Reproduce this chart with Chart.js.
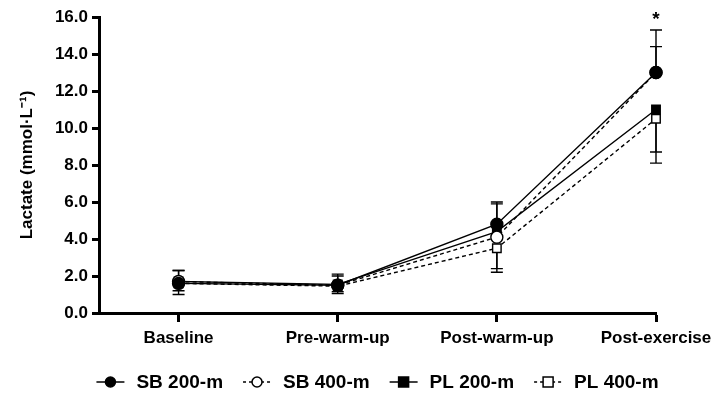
<!DOCTYPE html>
<html>
<head>
<meta charset="utf-8">
<script src="https://cdn.jsdelivr.net/npm/chart.js@4.4.1/dist/chart.umd.min.js"></script>
<style>
  html, body { margin: 0; padding: 0; background: #fff; }
  #wrap { width: 728px; height: 398px; }
</style>
</head>
<body>
<div id="wrap"><canvas id="chart"></canvas></div>
<script>
// time points
const categories = ["Baseline", "Pre-warm-up", "Post-warm-up", "Post-exercise"];

// means (mmol/L)
const sb200 = [1.6, 1.5, 4.8, 13.0];
const sb400 = [1.7, 1.5, 4.1, 13.0];
const pl200 = [1.7, 1.55, 4.4, 11.0];
const pl400 = [1.6, 1.45, 3.5, 10.5];

// SD, SB drawn upward, PL drawn downward
const sb200Sd = [0.7, 0.6, 1.2, 2.3];
const sb400Sd = [0.6, 0.5, 1.8, 1.4];
const pl200Sd = [0.5, 0.4, 2.2, 2.3];
const pl400Sd = [0.6, 0.4, 1.1, 2.4];

const yTicks = [0, 2, 4, 6, 8, 10, 12, 14, 16];
const starAt = [3]; // significance marks

const FONT = '"Liberation Sans", Arial, sans-serif';
Chart.defaults.font.family = FONT;
Chart.defaults.color = '#000';

function pts(arr) {
  return arr.map((v, i) => ({ x: i, y: v }));
}

function series(label, arr, sd, dir, style, filled, dashed) {
  return {
    label: label,
    data: pts(arr),
    errors: sd,
    errDir: dir,
    borderColor: '#000',
    borderWidth: 1.4,
    borderDash: dashed ? [4, 3] : [],
    pointStyle: style,
    pointRadius: 6,
    pointBorderWidth: 1.4,
    pointBorderColor: '#000',
    pointBackgroundColor: filled ? '#000' : '#fff',
    tension: 0,
    clip: false
  };
}

const errorBars = {
  id: 'errorBars',
  beforeDatasetsDraw(chart) {
    const ctx = chart.ctx;
    const ys = chart.scales.y;
    ctx.save();
    ctx.strokeStyle = '#000';
    ctx.lineWidth = 1.4;
    chart.data.datasets.forEach((ds, di) => {
      const meta = chart.getDatasetMeta(di);
      meta.data.forEach((pt, i) => {
        const end = ys.getPixelForValue(ds.data[i].y + ds.errors[i] * ds.errDir);
        ctx.beginPath();
        ctx.moveTo(pt.x, pt.y);
        ctx.lineTo(pt.x, end);
        ctx.moveTo(pt.x - 6, end);
        ctx.lineTo(pt.x + 6, end);
        ctx.stroke();
      });
    });
    ctx.restore();
  },
  afterDatasetsDraw(chart) {
    const ctx = chart.ctx;
    const xs = chart.scales.x, ys = chart.scales.y;
    ctx.save();
    ctx.font = 'bold 19px ' + FONT;
    ctx.textAlign = 'center';
    ctx.textBaseline = 'middle';
    starAt.forEach(i => {
      let top = 0;
      chart.data.datasets.forEach(ds => {
        top = Math.max(top, ds.data[i].y + Math.max(0, ds.errors[i] * ds.errDir));
      });
      ctx.fillText('*', xs.getPixelForValue(i), ys.getPixelForValue(top) - 10);
    });
    ctx.restore();
  }
};

const bottomLegend = {
  id: 'bottomLegend',
  afterDraw(chart) {
    const ctx = chart.ctx;
    const sym = 28, gap = 12, between = 20, y = 382;
    ctx.save();
    ctx.font = 'bold 19px ' + FONT;
    ctx.textBaseline = 'middle';
    const items = chart.data.datasets.map(ds => ({ ds: ds, w: ctx.measureText(ds.label).width }));
    let total = 0;
    items.forEach((it, k) => { total += sym + gap + it.w + (k ? between : 0); });
    const mid = (chart.chartArea.left + chart.chartArea.right) / 2;
    let x = mid - total / 2;
    items.forEach(it => {
      const ds = it.ds;
      ctx.strokeStyle = '#000';
      ctx.lineWidth = 1.5;
      ctx.setLineDash(ds.borderDash.length ? [3, 3] : []);
      ctx.beginPath();
      ctx.moveTo(x, y);
      ctx.lineTo(x + sym, y);
      ctx.stroke();
      ctx.setLineDash([]);
      ctx.fillStyle = ds.pointBackgroundColor;
      ctx.beginPath();
      if (ds.pointStyle === 'circle') {
        ctx.arc(x + sym / 2, y, 5, 0, Math.PI * 2);
      } else {
        ctx.rect(x + sym / 2 - 5, y - 5, 10, 10);
      }
      ctx.fill();
      ctx.stroke();
      ctx.fillStyle = '#000';
      ctx.fillText(ds.label, x + sym + gap, y + 1);
      x += sym + gap + it.w + between;
    });
    ctx.restore();
  }
};

new Chart(document.getElementById('chart'), {
  type: 'line',
  data: {
    datasets: [
      series('SB 200-m', sb200, sb200Sd, 1, 'circle', true, false),
      series('SB 400-m', sb400, sb400Sd, 1, 'circle', false, true),
      series('PL 200-m', pl200, pl200Sd, -1, 'rect', true, false),
      series('PL 400-m', pl400, pl400Sd, -1, 'rect', false, true)
    ]
  },
  options: {
    responsive: true,
    maintainAspectRatio: false,
    animation: false,
    layout: { padding: { top: 17, right: 72, left: 0, bottom: 0 } },
    plugins: {
      legend: { display: false },
      tooltip: { enabled: false }
    },
    scales: {
      x: {
        type: 'linear',
        min: -0.5,
        max: 3,
        afterBuildTicks: s => { s.ticks = categories.map((c, i) => ({ value: i })); },
        afterFit: s => { s.height = 85; },
        ticks: {
          autoSkip: false,
          maxRotation: 0,
          padding: 6,
          font: { size: 17, weight: 'bold' },
          callback: v => categories[v]
        },
        grid: {
          drawOnChartArea: false,
          tickLength: 9,
          tickWidth: 3,
          tickColor: '#000'
        },
        border: { display: true, color: '#000', width: 3 }
      },
      y: {
        min: 0,
        max: 16,
        afterBuildTicks: s => { s.ticks = yTicks.map(v => ({ value: v })); },
        afterFit: s => { s.width = 99; },
        ticks: {
          padding: 4,
          font: { size: 17, weight: 'bold' },
          callback: v => v.toFixed(1)
        },
        grid: {
          drawOnChartArea: false,
          tickLength: 7,
          tickWidth: 3,
          tickColor: '#000'
        },
        border: { display: true, color: '#000', width: 3 },
        title: {
          display: true,
          text: 'Lactate (mmol\u00B7L\u207B\u00B9)',
          font: { size: 17, weight: 'bold' },
          padding: { top: 17, bottom: 0 }
        }
      }
    }
  },
  plugins: [errorBars, bottomLegend]
});
</script>
</body>
</html>
